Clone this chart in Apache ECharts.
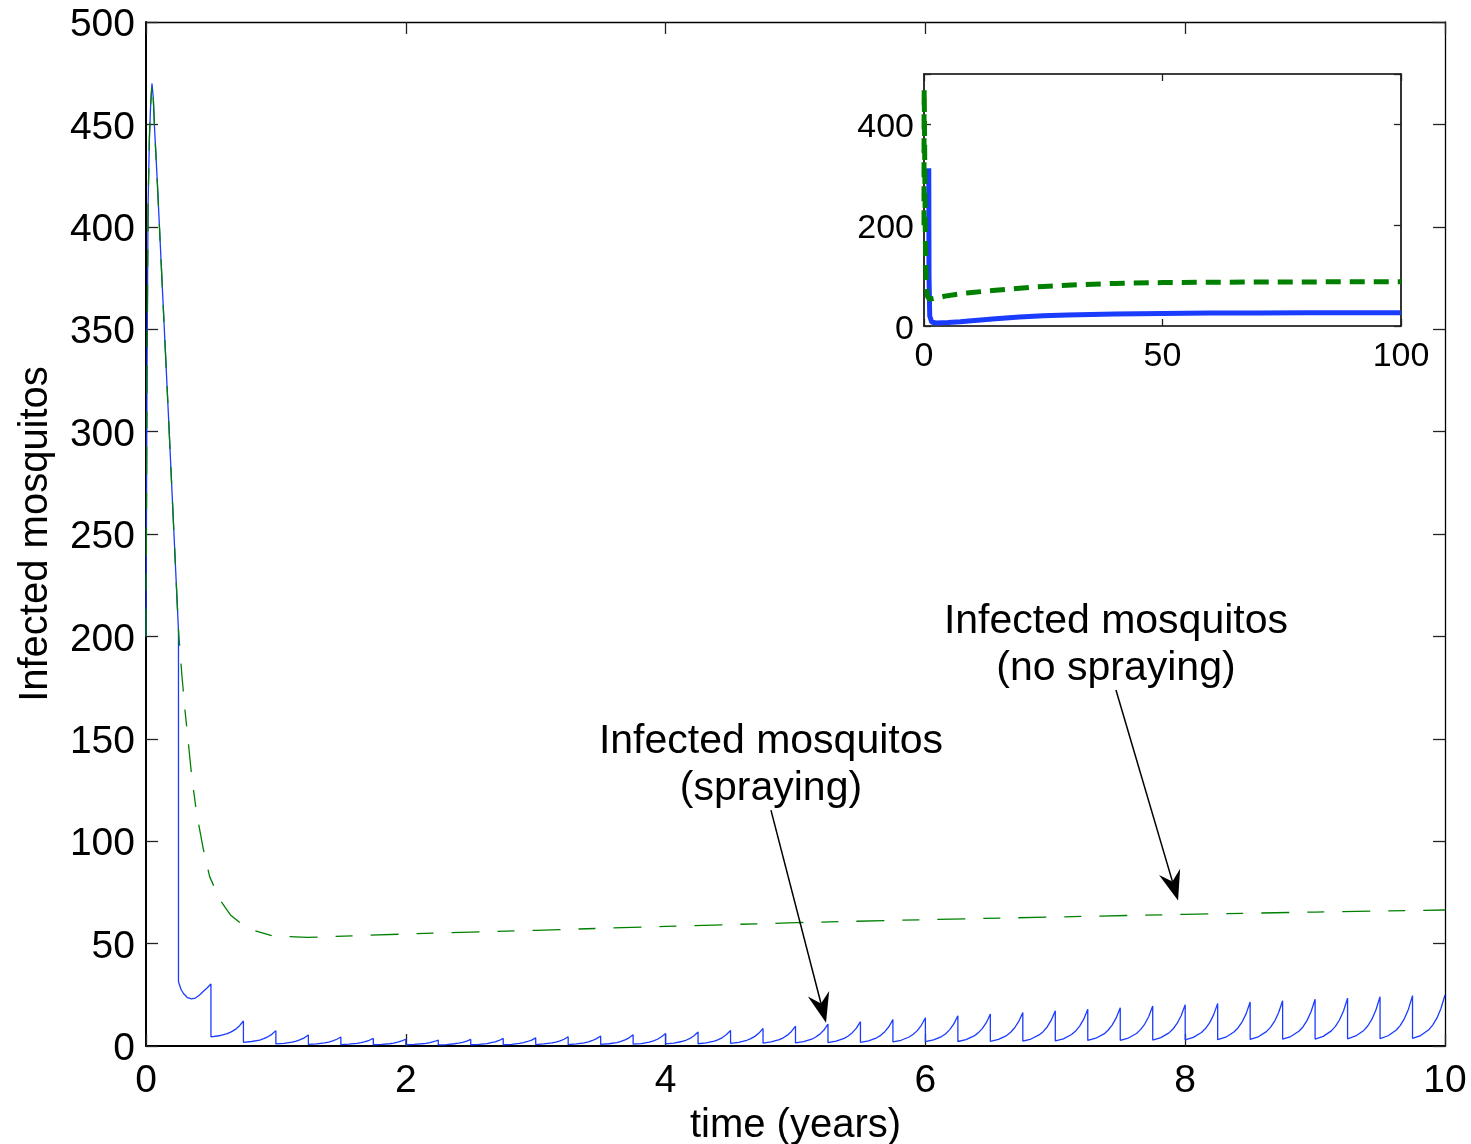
<!DOCTYPE html>
<html>
<head>
<meta charset="utf-8">
<script src="https://cdn.jsdelivr.net/npm/echarts@6/dist/echarts.min.js"></script>
<style>
  html, body { margin: 0; padding: 0; background: #fff; }
  #chart { width: 1471px; height: 1144px; }
</style>
</head>
<body>
<div id="chart"></div>
<script>
// ---- data (time in years, number of infected mosquitos) ----

// First season, identical for both scenarios until the first spray
const firstSeason = [
  [0, 200], [0.008, 330], [0.016, 410], [0.026, 443], [0.036, 460], [0.046, 470],
  [0.056, 463], [0.066, 448], [0.087, 422], [0.172, 309], [0.25, 203]
];

// Without spraying: decay to a minimum, then a slow rise
const noSprayingTail = [
  [0.275, 182], [0.30, 164], [0.326, 148], [0.352, 131.5], [0.39, 113.6], [0.44, 96.5],
  [0.49, 82.7], [0.57, 71.3], [0.65, 64], [0.775, 57.5], [0.98, 53.7], [1.24, 53.0],
  [1.6, 53.8], [2, 54.7], [3, 56.5], [4, 58.4], [5, 60.2], [6, 61.7], [7, 63.0],
  [8, 64.3], [9, 65.4], [10, 66.4]
];

// Without spraying, long run (after year 10)
const noSprayingLongRun = [
  [15, 71], [20, 75], [25, 78.5], [30, 81], [40, 84.5], [50, 86.2], [60, 86.8],
  [70, 87.2], [80, 87.5], [90, 87.7], [100, 87.8]
];

// With spraying: interval between the first and second spray
const sprayingFirstInterval = [
  [0.25, 31.4], [0.27, 27.6], [0.29, 25.5], [0.32, 23.6], [0.35, 23.0], [0.38, 23.4],
  [0.41, 24.8], [0.44, 26.6], [0.47, 28.3], [0.5, 30.3]
];

// Spray times (start of each following interval)
const sprayTimes = [
  0.5, 0.75, 1, 1.25, 1.5, 1.75, 2, 2.25, 2.5, 2.75, 3, 3.25, 3.5, 3.75, 4, 4.25,
  4.5, 4.75, 5, 5.25, 5.5, 5.75, 6, 6.25, 6.5, 6.75, 7, 7.25, 7.5, 7.75, 8, 8.25,
  8.5, 8.75, 9, 9.25, 9.5, 9.75
];

// Sample times inside an interval, measured from its spray time
const intervalOffsets = [0, 0.0625, 0.125, 0.15625, 0.1875, 0.21875, 0.25];

// Infected mosquitos sampled inside each interval (one row per spray time)
const sprayingIntervals = [
  [4.5, 5.0, 6.0, 6.9, 8.1, 9.8, 12.2],
  [1.8, 2.2, 2.9, 3.6, 4.5, 5.7, 7.5],
  [1.0, 1.3, 1.9, 2.4, 3.1, 4.0, 5.4],
  [0.8, 1.0, 1.5, 1.9, 2.5, 3.3, 4.4],
  [0.7, 0.9, 1.3, 1.6, 2.1, 2.8, 3.7],
  [0.6, 0.8, 1.1, 1.4, 1.9, 2.5, 3.3],
  [0.6, 0.8, 1.1, 1.3, 1.7, 2.2, 2.9],
  [0.55, 0.7, 1.1, 1.4, 1.8, 2.4, 3.2],
  [0.6, 0.8, 1.2, 1.6, 2.0, 2.7, 3.7],
  [0.6, 0.8, 1.3, 1.7, 2.2, 2.9, 4.0],
  [0.7, 1.0, 1.5, 1.9, 2.5, 3.3, 4.5],
  [0.7, 1.0, 1.5, 2.0, 2.7, 3.6, 4.9],
  [0.8, 1.1, 1.7, 2.3, 3.0, 4.0, 5.5],
  [0.9, 1.2, 1.9, 2.5, 3.3, 4.5, 6.1],
  [1.0, 1.4, 2.2, 2.8, 3.7, 5.0, 6.8],
  [1.1, 1.5, 2.4, 3.1, 4.1, 5.6, 7.6],
  [1.3, 1.8, 2.8, 3.6, 4.7, 6.3, 8.6],
  [1.4, 2.0, 3.1, 4.0, 5.3, 7.1, 9.7],
  [1.5, 2.1, 3.3, 4.4, 5.8, 7.8, 10.7],
  [1.7, 2.4, 3.7, 4.9, 6.5, 8.7, 11.9],
  [1.8, 2.5, 4.0, 5.2, 7.0, 9.4, 12.9],
  [2.0, 2.8, 4.4, 5.7, 7.5, 10.1, 13.8],
  [2.1, 3.0, 4.6, 6.0, 8.0, 10.8, 14.8],
  [2.2, 3.1, 4.9, 6.4, 8.5, 11.4, 15.6],
  [2.3, 3.2, 5.1, 6.7, 8.9, 12.0, 16.4],
  [2.4, 3.4, 5.4, 7.0, 9.3, 12.6, 17.2],
  [2.5, 3.5, 5.6, 7.3, 9.7, 13.1, 17.9],
  [2.7, 3.8, 5.9, 7.7, 10.2, 13.7, 18.7],
  [2.8, 3.9, 6.1, 8.0, 10.6, 14.3, 19.5],
  [2.9, 4.1, 6.4, 8.3, 11.0, 14.8, 20.2],
  [3.0, 4.2, 6.6, 8.5, 11.3, 15.2, 20.8],
  [3.1, 4.3, 6.8, 8.8, 11.7, 15.7, 21.5],
  [3.2, 4.5, 7.0, 9.1, 12.0, 16.2, 22.1],
  [3.3, 4.6, 7.2, 9.3, 12.4, 16.7, 22.8],
  [3.4, 4.7, 7.4, 9.6, 12.7, 17.1, 23.4],
  [3.5, 4.9, 7.6, 9.9, 13.1, 17.7, 24.1],
  [3.6, 5.0, 7.8, 10.1, 13.4, 18.0, 24.6],
  [3.7, 5.1, 7.9, 10.3, 13.6, 18.3, 24.9]
];

// With spraying, 100-year run as shown in the small panel
const sprayingLongRun = [
  [1.0, 313], [1.05, 100], [1.2, 20], [1.6, 8], [2.5, 6], [5, 7], [7.6, 8.5],
  [10, 10.5], [15, 14.5], [20, 18], [25, 20.5], [30, 22], [40, 23.8], [50, 25],
  [60, 25.6], [70, 26], [80, 26.2], [90, 26.4], [100, 26.5]
];

// Callouts: text anchor, arrow start and arrow tip (data coordinates)
const callouts = [
  { lines: ['Infected mosquitos', '(no spraying)'], textAt: [7.467, 195.5], from: [7.467, 173.8], to: [7.945, 71.0] },
  { lines: ['Infected mosquitos', '(spraying)'], textAt: [4.811, 137.2], from: [4.811, 115.2], to: [5.235, 11.3] }
];

// ---- assemble series ----
const sprayingSeries = firstSeason.concat(sprayingFirstInterval);
sprayTimes.forEach((t0, i) => {
  sprayingIntervals[i].forEach((v, j) => sprayingSeries.push([t0 + intervalOffsets[j], v]));
});
const noSprayingSeries = firstSeason.concat(noSprayingTail);
const noSprayingInset = noSprayingSeries.concat(noSprayingLongRun);

const FONT = '"Liberation Sans", Arial, Helvetica, sans-serif';
const BLUE = '#1a3cff';
const GREEN = '#008000';

function boxAxis(extra, tickLen, lineW) {
  return Object.assign({
    type: 'value',
    axisLine: { show: true, onZero: false, lineStyle: { color: '#000', width: lineW } },
    axisTick: { show: true, inside: true, length: tickLen, lineStyle: { color: '#222', width: 1.3 } },
    splitLine: { show: false }
  }, extra);
}

// Value labels nudged a little below their tick
const lowered = size => ({ v: { fontSize: size, fontFamily: FONT, color: '#000', padding: [7, 0, 0, 0] } });

const chart = echarts.init(document.getElementById('chart'), null, { renderer: 'canvas' });

const option = {
  animation: false,
  backgroundColor: '#fff',
  textStyle: { fontFamily: FONT },
  grid: [
    { left: 146, right: 26, top: 22, bottom: 98, containLabel: false, outerBoundsMode: 'none' },
    { left: 924, right: 70, top: 74, bottom: 818, containLabel: false, outerBoundsMode: 'none',
      show: true, backgroundColor: '#fff', borderWidth: 0, z: 5 }
  ],
  xAxis: [
    boxAxis({
      gridIndex: 0, position: 'bottom', min: 0, max: 10, interval: 2,
      name: 'time (years)', nameLocation: 'middle', nameGap: 58,
      nameTextStyle: { fontSize: 40, color: '#000', fontFamily: FONT },
      axisLabel: { fontSize: 39, color: '#000', margin: 16, fontFamily: FONT }
    }, 12, 2),
    boxAxis({ gridIndex: 0, position: 'top', min: 0, max: 10, interval: 2, axisLabel: { show: false } }, 12, 1.3),
    boxAxis({
      gridIndex: 1, position: 'bottom', min: 0, max: 100, interval: 50, z: 6,
      axisLabel: { fontSize: 34, color: '#000', margin: 14, fontFamily: FONT }
    }, 7, 1.6),
    boxAxis({ gridIndex: 1, position: 'top', min: 0, max: 100, interval: 50, z: 6, axisLabel: { show: false } }, 7, 1.6)
  ],
  yAxis: [
    boxAxis({
      gridIndex: 0, position: 'left', min: 0, max: 500, interval: 50,
      name: 'Infected mosquitos', nameLocation: 'middle', nameGap: 90,
      nameTextStyle: { fontSize: 40, color: '#000', fontFamily: FONT },
      axisLabel: { fontSize: 39, color: '#000', margin: 11, fontFamily: FONT,
        formatter: v => '{v|' + v + '}', rich: lowered(39) }
    }, 12, 2),
    boxAxis({ gridIndex: 0, position: 'right', min: 0, max: 500, interval: 50, axisLabel: { show: false } }, 12, 1.3),
    boxAxis({
      gridIndex: 1, position: 'left', min: 0, max: 500, interval: 200, z: 6,
      axisLabel: { fontSize: 34, color: '#000', margin: 10, fontFamily: FONT,
        formatter: v => (v % 200 === 0 ? '{v|' + v + '}' : ''), rich: lowered(34) }
    }, 7, 1.6),
    boxAxis({ gridIndex: 1, position: 'right', min: 0, max: 500, interval: 200, z: 6, axisLabel: { show: false } }, 7, 1.6)
  ],
  series: [
    {
      name: 'Infected mosquitos (spraying)', type: 'line', xAxisIndex: 0, yAxisIndex: 0,
      data: sprayingSeries, showSymbol: false, symbol: 'none',
      lineStyle: { color: BLUE, width: 1.3 }, z: 2
    },
    {
      name: 'Infected mosquitos (no spraying)', type: 'line', xAxisIndex: 0, yAxisIndex: 0,
      data: noSprayingSeries, showSymbol: false, symbol: 'none',
      lineStyle: { color: GREEN, width: 1.3, type: [28, 18, 17, 18] }, z: 3
    },
    {
      name: 'spraying, 100 years', type: 'line', xAxisIndex: 2, yAxisIndex: 2,
      data: sprayingLongRun, showSymbol: false, symbol: 'none',
      lineStyle: { color: BLUE, width: 5 }, z: 7
    },
    {
      name: 'no spraying, 100 years', type: 'line', xAxisIndex: 2, yAxisIndex: 2,
      data: noSprayingInset, showSymbol: false, symbol: 'none',
      lineStyle: { color: GREEN, width: 5, type: [15, 9] }, z: 8
    }
  ]
};

chart.setOption(option);

// Callout text and arrows, positioned from data coordinates
const toPx = p => chart.convertToPixel({ gridIndex: 0 }, p);
const graphics = [];
callouts.forEach(c => {
  const t = toPx(c.textAt);
  graphics.push({
    type: 'text', x: t[0], y: t[1], z: 20,
    style: {
      text: c.lines.join('\n'), font: '41px ' + FONT, fill: '#000',
      align: 'center', verticalAlign: 'middle', textAlign: 'center', textVerticalAlign: 'middle',
      lineHeight: 47
    }
  });
  const s = toPx(c.from), e = toPx(c.to);
  const dx = e[0] - s[0], dy = e[1] - s[1], L = Math.hypot(dx, dy);
  const ux = dx / L, uy = dy / L, nx = -uy, ny = ux;
  const headLen = 30, headHalf = 11, notchDepth = 20;
  const back = [e[0] - ux * headLen, e[1] - uy * headLen];
  const notch = [e[0] - ux * notchDepth, e[1] - uy * notchDepth];
  graphics.push({
    type: 'line', z: 20,
    shape: { x1: s[0], y1: s[1], x2: notch[0], y2: notch[1] },
    style: { stroke: '#000', lineWidth: 1.5 }
  });
  graphics.push({
    type: 'polygon', z: 20,
    shape: { points: [e, [back[0] + nx * headHalf, back[1] + ny * headHalf], notch, [back[0] - nx * headHalf, back[1] - ny * headHalf]] },
    style: { fill: '#000' }
  });
});
chart.setOption({ graphic: graphics });
</script>
</body>
</html>
